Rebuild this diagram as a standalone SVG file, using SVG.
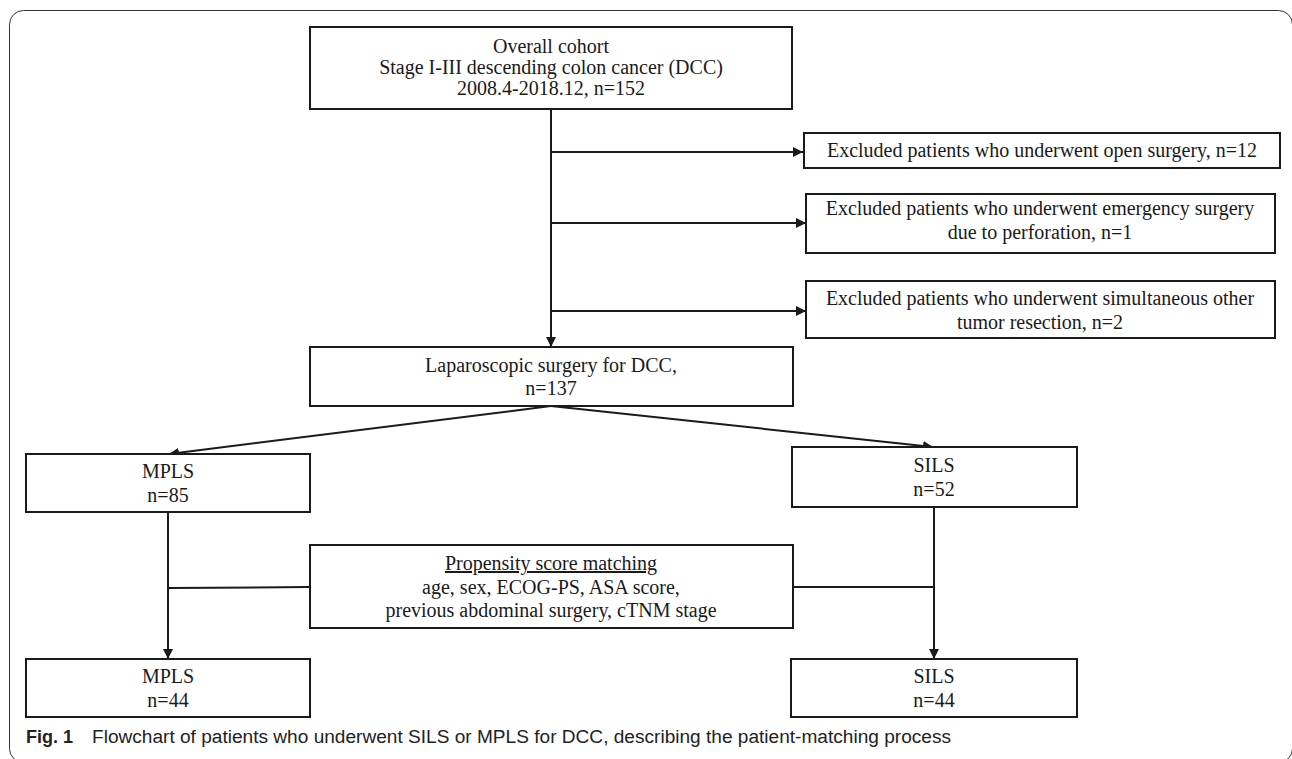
<svg xmlns="http://www.w3.org/2000/svg" width="1292" height="759" viewBox="0 0 1292 759">
<style>
.box{fill:#fff;stroke:#1a1a1a;stroke-width:2}
.t{font-family:"Liberation Serif","Times New Roman",serif;font-size:20px;fill:#1a1a1a;text-anchor:middle}
.c{stroke:#1a1a1a;stroke-width:2;fill:none}
.cap{font-family:"Liberation Sans",Arial,sans-serif;font-size:18px;fill:#222}
</style>
<defs>
<marker id="ah" viewBox="0 0 10 10" refX="10" refY="5" markerWidth="5" markerHeight="5" orient="auto" markerUnits="strokeWidth">
<path d="M0,0 L10,5 L0,10 z" fill="#1a1a1a"/>
</marker>
</defs>
<rect x="9.5" y="10.5" width="1283" height="752" rx="14" fill="#fff" stroke="#333" stroke-width="1"/>
<g id="connectors">
<line class="c" x1="551" y1="109" x2="551" y2="347" marker-end="url(#ah)"/>
<line class="c" x1="551" y1="152" x2="803" y2="152" marker-end="url(#ah)"/>
<line class="c" x1="551" y1="223" x2="806" y2="223" marker-end="url(#ah)"/>
<line class="c" x1="551" y1="311" x2="806" y2="311" marker-end="url(#ah)"/>
<line class="c" x1="551" y1="406" x2="169" y2="454" marker-end="url(#ah)"/>
<line class="c" x1="551" y1="406" x2="933" y2="447" marker-end="url(#ah)"/>
<line class="c" x1="168" y1="512" x2="168" y2="659" marker-end="url(#ah)"/>
<line class="c" x1="934" y1="507" x2="934" y2="659" marker-end="url(#ah)"/>
<line class="c" x1="168" y1="588" x2="310" y2="587"/>
<line class="c" x1="793" y1="587" x2="934" y2="587"/>
</g>
<g id="overall">
<rect class="box" x="310" y="27" width="482" height="82"/>
<text class="t" x="551" y="53">Overall cohort</text>
<text class="t" x="551" y="74">Stage I-III descending colon cancer (DCC)</text>
<text class="t" x="551" y="95">2008.4-2018.12, n=152</text>
</g>
<g id="excl1">
<rect class="box" x="804" y="133" width="476" height="35"/>
<text class="t" x="1042" y="157">Excluded patients who underwent open surgery, n=12</text>
</g>
<g id="excl2">
<rect class="box" x="806" y="194" width="469" height="59"/>
<text class="t" x="1040" y="215">Excluded patients who underwent emergency surgery</text>
<text class="t" x="1040" y="239">due to perforation, n=1</text>
</g>
<g id="excl3">
<rect class="box" x="806" y="281" width="469" height="57"/>
<text class="t" x="1040" y="305">Excluded patients who underwent simultaneous other</text>
<text class="t" x="1040" y="329">tumor resection, n=2</text>
</g>
<g id="lap">
<rect class="box" x="310" y="347" width="483" height="59"/>
<text class="t" x="551" y="372">Laparoscopic surgery for DCC,</text>
<text class="t" x="551" y="395">n=137</text>
</g>
<g id="mpls1">
<rect class="box" x="26" y="454" width="284" height="58"/>
<text class="t" x="168" y="478">MPLS</text>
<text class="t" x="168" y="502">n=85</text>
</g>
<g id="sils1">
<rect class="box" x="792" y="447" width="285" height="60"/>
<text class="t" x="934" y="472">SILS</text>
<text class="t" x="934" y="496">n=52</text>
</g>
<g id="psm">
<rect class="box" x="310" y="545" width="483" height="83"/>
<text class="t" x="551" y="570" text-decoration="underline">Propensity score matching</text>
<text class="t" x="551" y="594">age, sex, ECOG-PS, ASA score,</text>
<text class="t" x="551" y="617">previous abdominal surgery, cTNM stage</text>
</g>
<g id="mpls2">
<rect class="box" x="26" y="659" width="284" height="58"/>
<text class="t" x="168" y="683">MPLS</text>
<text class="t" x="168" y="707">n=44</text>
</g>
<g id="sils2">
<rect class="box" x="791" y="659" width="286" height="58"/>
<text class="t" x="934" y="683">SILS</text>
<text class="t" x="934" y="707">n=44</text>
</g>
<g id="caption">
<text class="cap" x="26" y="743"><tspan font-weight="bold">Fig. 1</tspan></text>
<text class="cap" x="92" y="743" textLength="859" lengthAdjust="spacingAndGlyphs">Flowchart of patients who underwent SILS or MPLS for DCC, describing the patient-matching process</text>
</g>
</svg>
